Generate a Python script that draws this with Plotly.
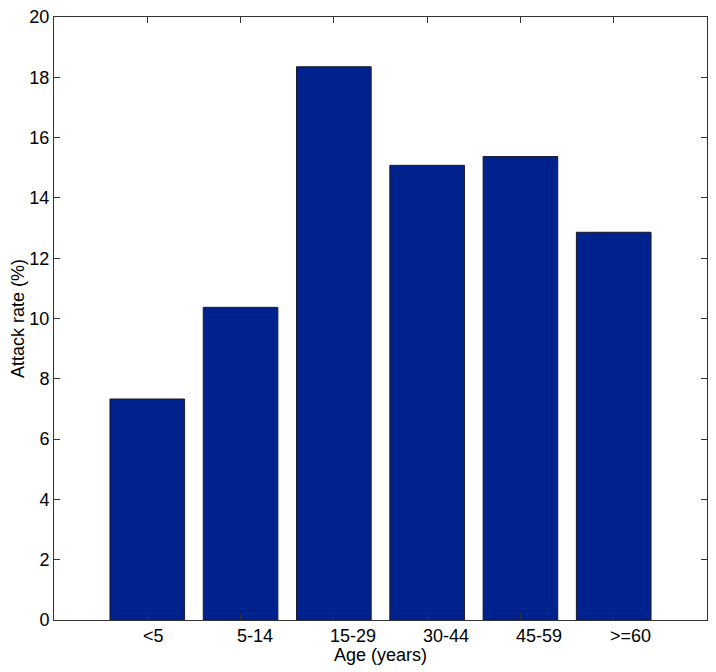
import plotly.graph_objects as go

categories = ["<5", "5-14", "15-29", "30-44", "45-59", ">=60"]
attack_rate = [7.33, 10.37, 18.35, 15.08, 15.37, 12.86]
y_ticks = [0, 2, 4, 6, 8, 10, 12, 14, 16, 18, 20]

positions = list(range(1, len(categories) + 1))

FONT = "Liberation Sans, Arial, Helvetica, sans-serif"
AX = "#333333"
FS = 18

fig = go.Figure()
fig.add_trace(go.Bar(
    x=positions, y=attack_rate, width=0.8,
    marker=dict(color="#00228c", line=dict(color="#1a1a2a", width=1)),
    showlegend=False,
))

annotations = []
for p, c in zip(positions, categories):
    annotations.append(dict(
        x=p, y=0, xref="x", yref="paper", text=c, showarrow=False,
        xanchor="left", yanchor="top", xshift=-6, yshift=-4,
        font=dict(family=FONT, size=FS, color="black"),
    ))
annotations.append(dict(
    x=0.5, y=0, xref="paper", yref="paper", text="Age (years)", showarrow=False,
    xanchor="center", yanchor="top", yshift=-23,
    font=dict(family=FONT, size=FS, color="black"),
))

fig.update_layout(
    width=708, height=664,
    margin=dict(l=46, r=9, t=9, b=52),
    plot_bgcolor="white", paper_bgcolor="white",
    bargap=0.2,
    font=dict(family=FONT, size=FS, color="black"),
    annotations=annotations,
    xaxis=dict(
        range=[0, 7], tickvals=positions, ticktext=["" for _ in categories],
        ticks="inside", ticklen=6, tickcolor=AX, tickwidth=1,
        showline=True, linecolor=AX, linewidth=1, mirror="ticks",
        showgrid=False, zeroline=False, automargin=False,
    ),
    yaxis=dict(
        range=[0, 20], tickvals=y_ticks, ticklabeloverflow="allow",
        ticks="inside", ticklen=6, tickcolor=AX, tickwidth=1,
        showline=True, linecolor=AX, linewidth=1, mirror="ticks",
        showgrid=False, zeroline=False, automargin=False,
        tickfont=dict(family=FONT, size=FS, color="black"),
        title=dict(text="Attack rate (%)", standoff=6,
                   font=dict(family=FONT, size=FS, color="black")),
    ),
)

fig.write_html("out.html")
